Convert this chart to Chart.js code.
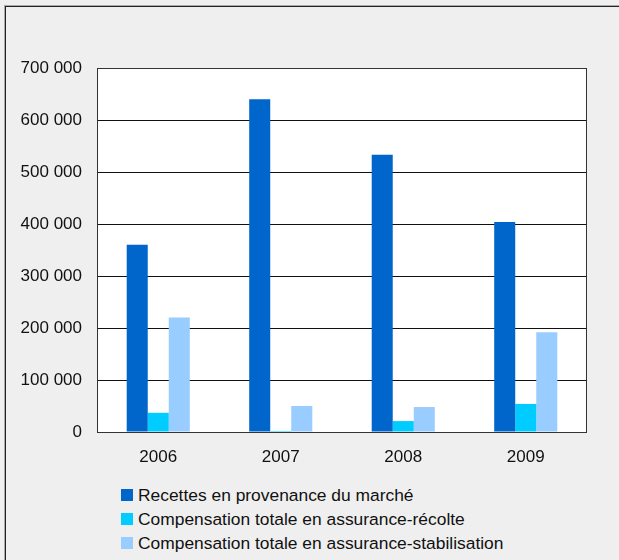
<!DOCTYPE html>
<html lang="fr">
<head>
<meta charset="utf-8">
<script src="https://cdn.jsdelivr.net/npm/chart.js@4/dist/chart.umd.min.js"></script>
<style>
    html, body {
        margin: 0;
        padding: 0;
        background: #efefef;
        width: 619px;
        height: 560px;
        overflow: hidden;
        font-family: "Liberation Sans", Arial, sans-serif;
    }
    /* cadre autour du graphique (bords gauche et haut) */
    #frame {
        position: absolute;
        left: 5px;
        top: 6px;
        width: 640px;
        height: 600px;
        border-left: 1px solid #222;
        border-top: 1px solid #222;
        box-shadow: -1px -1px 0 #aaa;
    }
    #wrap {
        position: absolute;
        left: 0;
        top: 0;
        width: 619px;
        height: 470px;
    }
    #legend {
        position: absolute;
        left: 121px;
        top: 483px;
        font-size: 17.4px;
        color: #111;
    }
    .legend-item {
        height: 24px;
        display: flex;
        align-items: center;
        white-space: nowrap;
    }
    .legend-box {
        width: 12px;
        height: 12px;
        margin-right: 5px;
        flex: none;
    }
</style>
</head>
<body>
<div id="frame"></div>
<div id="wrap"><canvas id="chart" width="619" height="470"></canvas></div>
<div id="legend"></div>
<script>
// années
const years = ['2006', '2007', '2008', '2009'];

// recettes du marché et compensations ($)
const marketRevenue = [360000, 640000, 533000, 404000];
const cropInsurance = [37000, 2000, 21000, 54000];
const stabilization = [220000, 50000, 48000, 192000];

// graduations de l'axe vertical
const yTicks = [0, 100000, 200000, 300000, 400000, 500000, 600000, 700000];

const seriesNames = [
    'Recettes en provenance du marché',
    'Compensation totale en assurance-récolte',
    'Compensation totale en assurance-stabilisation'
];
const seriesColors = ['#0066cc', '#00ccff', '#99ccff'];

// format avec espace comme séparateur des milliers
function formatNumber(v) {
    return String(v).replace(/\B(?=(\d{3})+(?!\d))/g, ' ');
}

// fond blanc de la zone de tracé
const plotBackground = {
    id: 'plotBackground',
    beforeDraw(chart) {
        const { ctx, chartArea: a } = chart;
        ctx.save();
        ctx.fillStyle = '#ffffff';
        ctx.fillRect(a.left, a.top, a.right - a.left, a.bottom - a.top);
        ctx.restore();
    }
};

// bordure de la zone de tracé
const plotBorder = {
    id: 'plotBorder',
    afterDatasetsDraw(chart) {
        const { ctx, chartArea: a } = chart;
        ctx.save();
        ctx.strokeStyle = '#333';
        ctx.lineWidth = 1;
        ctx.strokeRect(a.left + 0.5, a.top + 0.5, a.right - a.left - 1, a.bottom - a.top);
        ctx.restore();
    }
};

Chart.defaults.font.family = '"Liberation Sans", Arial, sans-serif';
Chart.defaults.font.size = 17;
Chart.defaults.color = '#111';

const chart = new Chart(document.getElementById('chart'), {
    type: 'bar',
    data: {
        labels: years,
        datasets: [marketRevenue, cropInsurance, stabilization].map((values, i) => ({
            label: seriesNames[i],
            data: values,
            backgroundColor: seriesColors[i],
            borderWidth: 0
        }))
    },
    options: {
        responsive: false,
        animation: false,
        layout: { padding: { top: 68, right: 32, left: 0, bottom: 0 } },
        datasets: {
            bar: { categoryPercentage: 0.515, barPercentage: 1 }
        },
        plugins: {
            legend: { display: false },
            tooltip: { enabled: false }
        },
        scales: {
            x: {
                grid: { display: false, drawTicks: false },
                border: { display: false },
                ticks: { padding: 15 },
                afterFit(scale) { scale.height = 38; }
            },
            y: {
                min: 0,
                max: 700000,
                afterBuildTicks(scale) {
                    scale.ticks = yTicks.map(v => ({ value: v }));
                },
                grid: { color: '#111', lineWidth: 1, drawTicks: false },
                border: { display: false },
                ticks: {
                    padding: 15,
                    callback: v => formatNumber(v)
                },
                afterFit(scale) { scale.width = 97; }
            }
        }
    },
    plugins: [plotBackground, plotBorder]
});

// légende construite à partir des séries du graphique
const legendDiv = document.getElementById('legend');
chart.data.datasets.forEach(ds => {
    const item = document.createElement('div');
    item.classList.add('legend-item');
    const box = document.createElement('span');
    box.classList.add('legend-box');
    box.style.background = ds.backgroundColor;
    const text = document.createElement('span');
    text.textContent = ds.label;
    item.appendChild(box);
    item.appendChild(text);
    legendDiv.appendChild(item);
});
</script>
</body>
</html>
